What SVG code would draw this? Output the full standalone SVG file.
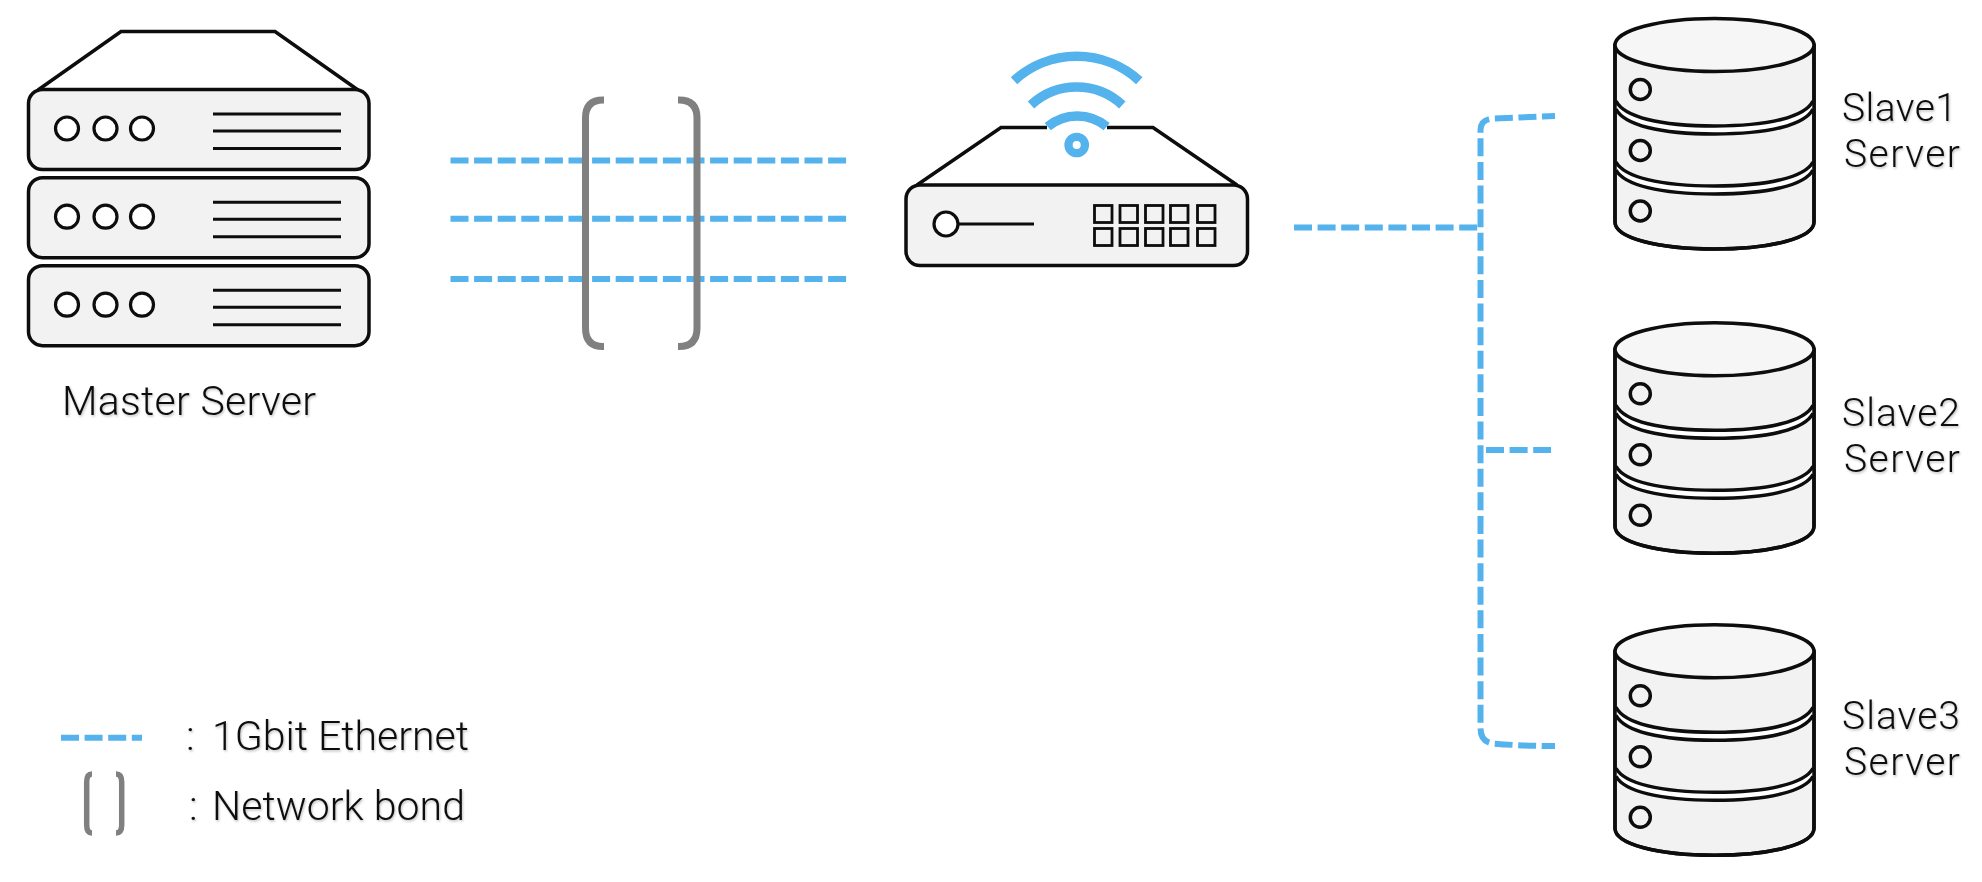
<svg xmlns="http://www.w3.org/2000/svg" width="1982" height="882" viewBox="0 0 1982 882">
<style>
text{font-family:"Roboto","Liberation Sans",sans-serif;font-weight:300;font-size:41px;fill:#111;filter:url(#soft)}
text.s{font-size:39px}
.o{stroke:#0d0d0d;stroke-width:3.5;fill:none}
.p{stroke:#0d0d0d;stroke-width:3.5;fill:#f2f2f2}
.c{stroke:#0d0d0d;stroke-width:3.2;fill:#fff}
.l{stroke:#0d0d0d;stroke-width:3;fill:none}
.e{stroke:#54b2ec;stroke-width:6;fill:none;stroke-dasharray:18 5.6}
.b{stroke:#808080;stroke-width:7;fill:none}
.w{stroke:#54b2ec;stroke-width:9.5;fill:none}
</style>
<defs>
<filter id="soft" x="-5%" y="-10%" width="110%" height="125%"><feDropShadow dx="1" dy="1.5" stdDeviation="1" flood-color="#000" flood-opacity=".25"/></filter>
<g id="rack">
<rect class="p" x="28.5" y="0" width="340.5" height="80" rx="14"/>
<circle class="c" cx="67" cy="39" r="11.5"/><circle class="c" cx="105.5" cy="39" r="11.5"/><circle class="c" cx="142" cy="39" r="11.5"/>
<path class="l" d="M213 24.5H341M213 41.5H341M213 59H341"/>
</g>
<g id="db">
<path class="p" d="M1615 45V222C1615 238 1658 249 1714.500 249S1814 238 1814 222V45Z"/>
<path d="M1615 100C1620 117 1660 126 1714.500 126S1809 117 1814 100V108C1809 125 1770 134 1714.500 134S1620 125 1615 108ZM1615 161C1620 177 1660 186 1714.500 186S1809 177 1814 161V169C1809 185 1770 194 1714.500 194S1620 185 1615 169Z" fill="#fff" stroke="none"/>
<path class="o" d="M1616 101C1624 117 1660 126 1714.500 126S1805 117 1813 101M1616 109C1624 125 1660 134 1714.500 134S1805 125 1813 109M1616 162C1624 177 1660 186 1714.500 186S1805 177 1813 162M1616 170C1624 185 1660 194 1714.500 194S1805 185 1813 170"/>
<path class="p" style="fill:none" d="M1615 45V222C1615 238 1658 249 1714.500 249S1814 238 1814 222V45"/>
<ellipse class="p" style="fill:#f6f6f6" cx="1714.500" cy="45" rx="99.500" ry="26.500"/>
<circle class="o" cx="1640.300" cy="89.500" r="10"/><circle class="o" cx="1640.300" cy="150.500" r="10"/><circle class="o" cx="1640.300" cy="211" r="10"/>
</g>
</defs>
<rect width="1982" height="882" fill="#fff"/>
<g id="connectors">
<path class="e" d="M450.500 160.500H847M450.500 218.700H847M450.500 279H847"/>
<path class="e" d="M1294 227.500H1478"/>
<path class="e" stroke-dashoffset="5" d="M1555 116L1493 118.500Q1480.500 119.500 1480.500 130V728Q1480.500 742 1493 743.500Q1522 746 1555 746"/>
<path class="e" d="M1486 450H1551"/>
</g>
<g id="bond">
<path class="b" d="M604 100H603Q585.500 100 585.500 118V328Q585.500 346.500 603 346.500H604"/>
<path class="b" d="M678 100H679Q697 100 697 118V328Q697 346.500 679 346.500H678"/>
</g>
<g id="master-server">
<path class="o" style="fill:#fff" d="M38 90L121 31.500H275L358 90"/>
<use href="#rack" y="89.500"/><use href="#rack" y="177.700"/><use href="#rack" y="265.700"/>
<text x="62" y="415" textLength="254">Master Server</text>
</g>
<g id="router">
<path class="o" style="fill:#fff" d="M917 185L1001 127.500H1047M1107 127.500H1153L1237 185"/>
<rect class="p" x="906" y="185" width="341.500" height="80.500" rx="14"/>
<circle class="c" cx="946" cy="224" r="12"/>
<path class="l" d="M958 224H1034"/>
<g class="l" style="stroke-width:2.800">
<rect x="1094.500" y="205.500" width="17.500" height="17"/><rect x="1120" y="205.500" width="17.500" height="17"/><rect x="1145.500" y="205.500" width="17.500" height="17"/><rect x="1170.500" y="205.500" width="17.500" height="17"/><rect x="1197.500" y="205.500" width="17.500" height="17"/>
<rect x="1094.500" y="228.500" width="17.500" height="17"/><rect x="1120" y="228.500" width="17.500" height="17"/><rect x="1145.500" y="228.500" width="17.500" height="17"/><rect x="1170.500" y="228.500" width="17.500" height="17"/><rect x="1197.500" y="228.500" width="17.500" height="17"/>
</g>
<path class="w" d="M1047.700 126.700A46 46 0 0 1 1106.700 126.700M1031 105A67 67 0 0 1 1122.300 105M1014 80.700A92.700 92.700 0 0 1 1139.300 80.700"/>
<circle cx="1076.700" cy="145" r="8.200" fill="#fff" stroke="#54b2ec" stroke-width="8.300"/>
</g>
<g id="slave1"><use href="#db"/>
<text class="s" x="1842" y="121" textLength="115">Slave1</text><text class="s" x="1844" y="167" textLength="116">Server</text></g>
<g id="slave2"><use href="#db" y="304.300"/>
<text class="s" x="1842" y="425.500" textLength="118">Slave2</text><text class="s" x="1844" y="471.500" textLength="116">Server</text></g>
<g id="slave3"><use href="#db" y="606.300"/>
<text class="s" x="1842" y="729" textLength="118">Slave3</text><text class="s" x="1844" y="775" textLength="116">Server</text></g>
<g id="legend">
<path class="e" d="M61 737.700H142"/>
<path class="b" style="stroke-width:5.500" d="M92 774Q86.700 774 86.700 782V825Q86.700 833 92 833M116 774Q121.700 774 121.700 782V825Q121.700 833 116 833"/>
<text x="186" y="750">:</text><text x="212" y="750" textLength="257">1Gbit Ethernet</text>
<text x="189" y="820">:</text><text x="212" y="820" textLength="253">Network bond</text>
</g>
</svg>
